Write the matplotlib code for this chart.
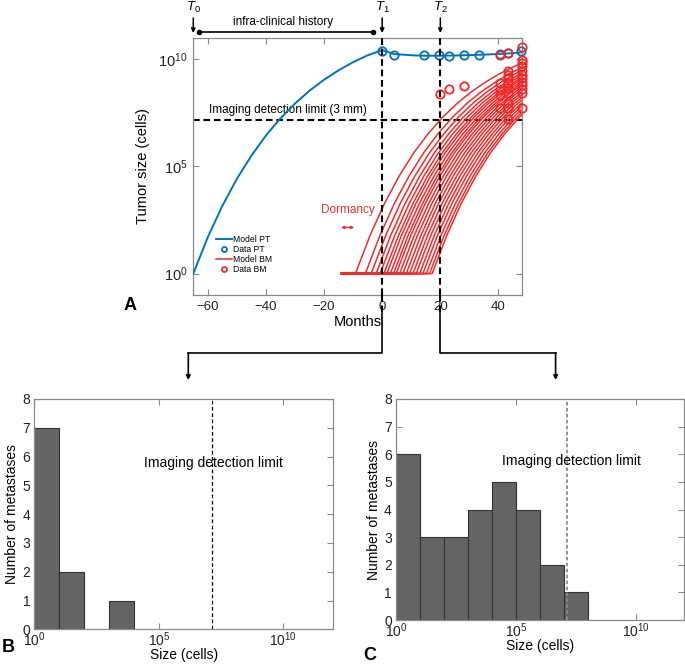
import numpy as np
import matplotlib
matplotlib.use('Agg')
import matplotlib.pyplot as plt
from matplotlib.lines import Line2D
from matplotlib.ticker import FixedLocator, NullLocator, LogFormatterMathtext

plt.rcParams['font.family'] = ['Liberation Sans', 'DejaVu Sans']
plt.rcParams['mathtext.fontset'] = 'custom'
plt.rcParams['mathtext.rm'] = 'Liberation Sans'
plt.rcParams['mathtext.it'] = 'Liberation Sans:italic'
plt.rcParams['mathtext.bf'] = 'Liberation Sans:bold'

# ---------------- data ----------------
# primary tumour model (months, log10 cells)
pt_model_months = [-65, -60, -55, -50, -45, -40, -35, -30, -25, -20, -15, -10, -5, 0,
                   4, 10, 15, 20, 25, 30, 35, 40, 45, 48]
pt_model_log = [0.0, 1.70, 3.16, 4.42, 5.50, 6.44, 7.24, 7.93, 8.53, 9.04, 9.48, 9.86, 10.18, 10.42,
                10.24, 10.18, 10.16, 10.16, 10.17, 10.19, 10.21, 10.24, 10.28, 10.32]
# primary tumour data
pt_data_months = [0, 3.9, 14.4, 19.5, 22.9, 28, 33.2, 40.4, 43.3, 47.9]
pt_data_log = [10.40, 10.21, 10.17, 10.17, 10.15, 10.19, 10.21, 10.22, 10.28, 10.37]
# brain metastases model: onset times and common growth profile
bm_model_start = -14
bm_onsets = [-9.2, -5.8, -3.8, -2.1, -0.7, 0.6, 1.6, 2.8, 3.9, 4.8, 6.0, 7.1,
             8.3, 9.4, 10.6, 11.7, 12.9, 14.0, 15.2, 16.3, 17.2]
bm_growth_tau = [0, 5, 10, 15, 20, 25, 30, 35, 40, 45, 50, 55, 60, 65]
bm_growth_log = [0.0, 1.77, 3.27, 4.54, 5.62, 6.52, 7.29, 7.94, 8.49, 8.95, 9.35, 9.68, 9.96, 10.2]
# brain metastases data
bm_data_months = [20, 23, 28,
                  40.4, 40.4, 40.4, 40.4, 40.4,
                  43.3, 43.3, 43.3, 43.3, 43.3, 43.3, 43.3, 43.3, 43.3, 43.3,
                  48, 48, 48, 48, 48, 48, 48, 48, 48, 48, 48, 48]
bm_data_log = [8.37, 8.6, 8.73,
               10.21, 8.88, 8.57, 8.34, 7.72,
               10.29, 9.44, 9.28, 9.13, 8.9, 8.67, 8.43, 7.97, 7.74, 7.2,
               10.56, 9.98, 9.83, 9.67, 9.47, 9.28, 9.1, 8.94, 8.79, 8.63, 8.43, 7.73]
detection_limit_log = 7.14
t_marks = [-65, 0, 20]
t_labels = [r'$\mathit{T}_{0}$', r'$\mathit{T}_{1}$', r'$\mathit{T}_{2}$']

# histograms (log10 bin edges, counts)
hist_edges_log = [0, 1, 2, 3, 4, 5, 6, 7, 8]
hist_B_counts = [7, 2, 0, 1, 0, 0, 0, 0]
hist_C_counts = [6, 3, 3, 4, 5, 4, 2, 1]

# ---------------- style ----------------
W, H = 685, 667
BLUE = '#0072BD'
RED = '#EE2B2B'
SPINE = '#8a8a8a'
BARFACE = '#646464'
BAREDGE = '#333333'

fig = plt.figure(figsize=(W / 100, H / 100), dpi=100)


def style_axes(ax):
    for s in ax.spines.values():
        s.set_color(SPINE)
        s.set_linewidth(0.9)
    ax.tick_params(direction='in', top=True, right=True, length=4, width=0.8,
                   color=SPINE, labelcolor='#222222')


# ---------------- panel A ----------------
axL, axR, axT, axB = 193.3, 521.7, 37.7, 295.0
axA = fig.add_axes([axL / W, 1 - axB / H, (axR - axL) / W, (axB - axT) / H])
style_axes(axA)
axA.set_yscale('log')
xmin, xmax = -65, 48
axA.set_xlim(xmin, xmax)
axA.set_ylim(10 ** -1.0, 10 ** 11.0)

pt_model_y = 10 ** np.array(pt_model_log)
axA.plot(pt_model_months, pt_model_y, color=BLUE, lw=1.4, label='Model PT', zorder=4)
axA.plot(pt_data_months, 10 ** np.array(pt_data_log), 'o', mfc='none', mec=BLUE,
         mew=1.3, ms=6, label='Data PT', clip_on=False, zorder=5)

tau = np.array(bm_growth_tau)
glog = np.array(bm_growth_log)
for i, t0 in enumerate(bm_onsets):
    xs = np.concatenate([[bm_model_start], t0 + tau])
    ys = 10 ** np.concatenate([[0.0], glog])
    axA.plot(xs, ys, color=RED, lw=1.1, label='Model BM' if i == 0 else None, zorder=3)
axA.plot(bm_data_months, 10 ** np.array(bm_data_log), 'o', mfc='none', mec=RED,
         mew=1.3, ms=6, label='Data BM', clip_on=False, zorder=5)

# detection limit and time markers
axA.axhline(10 ** detection_limit_log, color='black', lw=1.5, dashes=(3.2, 1.8), zorder=2)
for tm in t_marks[1:]:
    axA.axvline(tm, color='black', lw=1.5, dashes=(3.2, 1.8), zorder=6)
axA.text(-59.5, 10 ** 7.65, 'Imaging detection limit (3 mm)', fontsize=8.5,
         ha='left', va='center')

# dormancy
axA.text(-11.9, 10 ** 2.95, 'Dormancy', color=RED, fontsize=8.5, ha='center', va='center')
axA.annotate('', xy=(-14.2, 10 ** 2.15), xytext=(-9.6, 10 ** 2.15),
             arrowprops=dict(arrowstyle='<|-|>', color=RED, lw=1.0,
                             mutation_scale=4, shrinkA=0, shrinkB=0))

axA.xaxis.set_major_locator(FixedLocator([-60, -40, -20, 0, 20, 40]))
axA.yaxis.set_major_locator(FixedLocator([1, 1e5, 1e10]))
axA.yaxis.set_minor_locator(NullLocator())
axA.yaxis.set_major_formatter(LogFormatterMathtext())
axA.tick_params(axis='x', labelsize=9.5, pad=4)
axA.tick_params(axis='y', labelsize=10.5, pad=4)
axA.set_xlabel('Months', fontsize=10.5, labelpad=2)
axA.set_ylabel('Tumor size (cells)', fontsize=10.5, labelpad=6)

leg = axA.legend(loc='upper left', bbox_to_anchor=(0.068, 0.235), frameon=False,
                 fontsize=6.2, handlelength=1.9, handletextpad=0.15, markerscale=0.6,
                 labelspacing=0.15, borderaxespad=0, borderpad=0)


def fx(month):
    return (axL + (axR - axL) * (month - xmin) / (xmax - xmin)) / W


# top annotations
for tm, lab in zip(t_marks, t_labels):
    fig.text(fx(tm), 1 - 7 / H, lab, fontsize=9.5, ha='center', va='center')
    fig.add_artist(matplotlib.patches.FancyArrowPatch(
        (fx(tm), 1 - 18 / H), (fx(tm), 1 - 33 / H), transform=fig.transFigure,
        arrowstyle='-|>', mutation_scale=6, color='black', lw=1.1,
        shrinkA=0, shrinkB=0))
br_y = 1 - 31.7 / H
fig.add_artist(Line2D([fx(-63.2), fx(-3.2)], [br_y, br_y], transform=fig.transFigure,
                      color='black', lw=1.2, marker='o', ms=3, markevery=[0, 1]))
fig.text(fx(-34.0), 1 - 21.5 / H, 'infra-clinical history', fontsize=8.5,
         ha='center', va='center')

# connectors below panel A
conn_y = 352.7
arrow_tip = 380
for tm, xend in [(0, 188.3), (20, 555.6)]:
    fig.add_artist(Line2D([fx(tm), fx(tm)], [1 - axB / H, 1 - 313 / H],
                          transform=fig.transFigure, color='black', lw=1.5,
                          dashes=(3.2, 1.8)))
    fig.add_artist(Line2D([fx(tm), fx(tm), xend / W], [1 - 313 / H, 1 - conn_y / H, 1 - conn_y / H],
                          transform=fig.transFigure, color='black', lw=1.2))
    fig.add_artist(matplotlib.patches.FancyArrowPatch(
        (xend / W, 1 - conn_y / H), (xend / W, 1 - arrow_tip / H), transform=fig.transFigure,
        arrowstyle='-|>', mutation_scale=6, color='black', lw=1.2,
        shrinkA=0, shrinkB=0))

fig.text(130 / W, 1 - 306 / H, 'A', fontsize=13, fontweight='bold', ha='center', va='center')


# ---------------- panels B, C ----------------
def hist_panel(rect, counts, line_style, text_xy):
    ax = fig.add_axes(rect)
    style_axes(ax)
    ax.set_xscale('log')
    edges = 10.0 ** np.array(hist_edges_log)
    for k, c in enumerate(counts):
        if c > 0:
            ax.bar(edges[k], c, width=edges[k + 1] - edges[k], align='edge',
                   color=BARFACE, edgecolor=BAREDGE, linewidth=0.8, zorder=2)
    ax.set_xlim(1, 1e12)
    ax.set_ylim(0, 8)
    ax.axvline(10 ** detection_limit_log, zorder=3, **line_style)
    ax.xaxis.set_major_locator(FixedLocator([1, 1e5, 1e10]))
    ax.xaxis.set_minor_locator(NullLocator())
    ax.xaxis.set_major_formatter(LogFormatterMathtext())
    ax.yaxis.set_major_locator(FixedLocator(range(0, 9)))
    ax.tick_params(axis='x', labelsize=10, pad=1)
    ax.tick_params(axis='y', labelsize=10, pad=3)
    ax.set_xlabel('Size (cells)', fontsize=10, labelpad=-1)
    ax.set_ylabel('Number of metastases', fontsize=10, labelpad=2)
    ax.text(10 ** text_xy[0], text_xy[1], 'Imaging detection limit', fontsize=10,
            ha='left', va='center', zorder=4)
    return ax


axBp = hist_panel([34.3 / W, 1 - 629.3 / H, 299 / W, 230.3 / H], hist_B_counts,
                  dict(color='black', lw=0.9, dashes=(3, 2)), (4.42, 5.76))
axCp = hist_panel([396 / W, 1 - 620 / H, 288 / W, 221 / H], hist_C_counts,
                  dict(color='#8a8a8a', lw=1.3, dashes=(2, 1.3)), (4.43, 5.77))

fig.text(8 / W, 1 - 648 / H, 'B', fontsize=13, fontweight='bold', ha='center', va='center')
fig.text(370 / W, 1 - 655 / H, 'C', fontsize=13, fontweight='bold', ha='center', va='center')

fig.savefig('out.png', dpi=100)
